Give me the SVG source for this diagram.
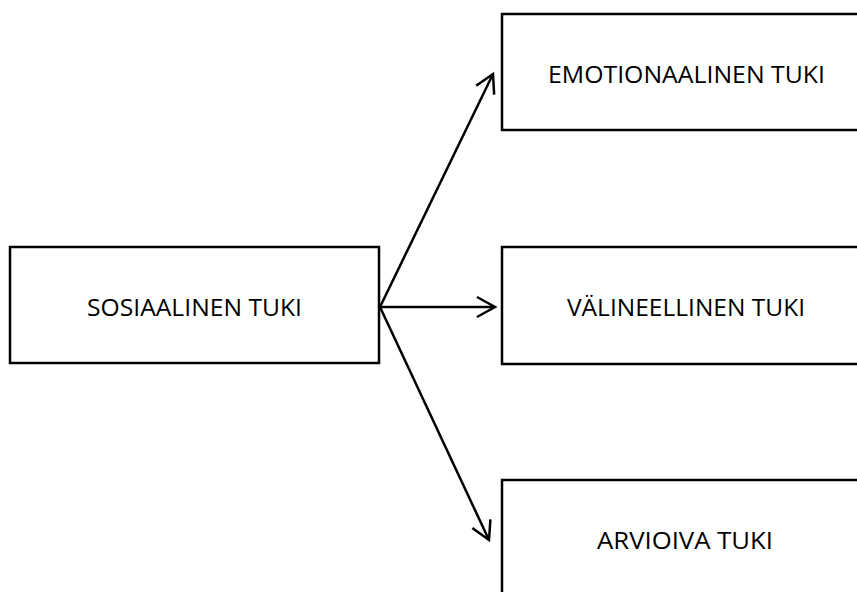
<svg xmlns="http://www.w3.org/2000/svg" width="857" height="592" viewBox="0 0 857 592">
<style>
.box{fill:#fff;stroke:#000;stroke-width:2.5}
.lbl{font-family:"Open Sans","Liberation Sans",sans-serif;font-size:23.5px;fill:#000;text-anchor:middle}
.con{stroke:#000;stroke-width:2.5;fill:none;marker-end:url(#arr)}
</style>
<defs>
<marker id="arr" markerUnits="userSpaceOnUse" markerWidth="30" markerHeight="30" viewBox="-20 -15 24 30" refX="0" refY="0" orient="auto">
<path d="M-18,-10 L0,0 L-18,10" fill="none" stroke="#000" stroke-width="2.5"/>
</marker>
</defs>
<rect width="857" height="592" fill="#fff"/>
<g id="sosiaalinen">
<rect class="box" x="10" y="247" width="369" height="116"/>
<text class="lbl" x="194.5" y="316" textLength="215" lengthAdjust="spacingAndGlyphs">SOSIAALINEN TUKI</text>
</g>
<g id="emotionaalinen">
<rect class="box" x="502" y="14" width="370" height="116"/>
<text class="lbl" x="686.5" y="83" textLength="277" lengthAdjust="spacingAndGlyphs">EMOTIONAALINEN TUKI</text>
</g>
<g id="valineellinen">
<rect class="box" x="502" y="247" width="370" height="117"/>
<text class="lbl" x="686" y="316" textLength="238" lengthAdjust="spacingAndGlyphs">VÄLINEELLINEN TUKI</text>
</g>
<g id="arvioiva">
<rect class="box" x="502" y="480" width="370" height="130"/>
<text class="lbl" x="685" y="549" textLength="176" lengthAdjust="spacingAndGlyphs">ARVIOIVA TUKI</text>
</g>
<g id="connectors">
<line class="con" x1="380" y1="307" x2="493" y2="74"/>
<line class="con" x1="380" y1="307" x2="495" y2="307"/>
<line class="con" x1="380" y1="307" x2="489" y2="540"/>
</g>
</svg>
